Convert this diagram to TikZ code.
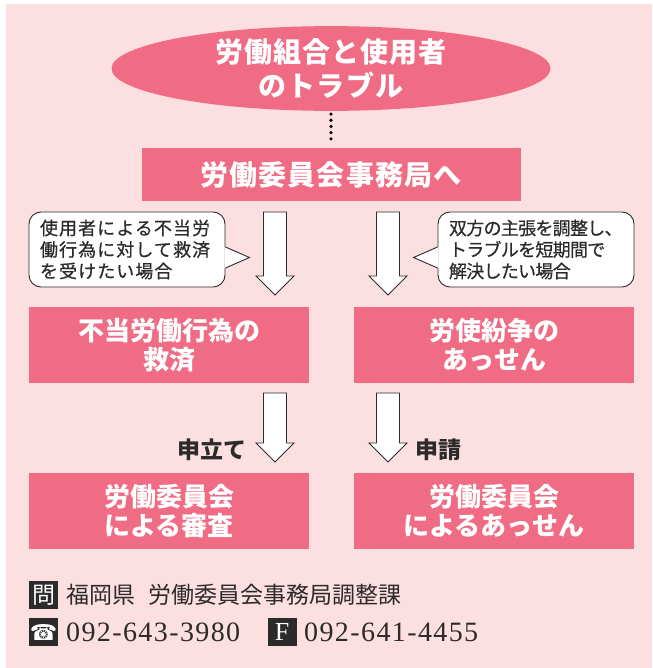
\documentclass[tikz,border=0pt]{standalone}
\usepackage{fontspec}
\usetikzlibrary{shapes.geometric}
\newfontfamily\gothic{Noto Sans CJK JP}
\newfontfamily\numfont{Liberation Serif}
\newfontfamily\symfont{DejaVu Sans}
\definecolor{bgpink}{RGB}{252,223,224}
\definecolor{boxpink}{RGB}{240,108,133}
\definecolor{inkgray}{RGB}{45,42,43}

\begin{document}
\begin{tikzpicture}[x=1pt,y=-1pt,
        pinkbox/.style={rectangle, fill=boxpink, text=white, align=center, inner sep=0pt,
            minimum width=280pt, minimum height=76pt,
            font=\gothic\bfseries\fontsize{26}{29.5}\selectfont},
        bubble/.style={rectangle, rounded corners=12pt, draw=inkgray, line width=0.9pt, fill=white,
            minimum width=196pt, minimum height=75pt, text width=174pt, align=left, inner sep=0pt,
            text=inkgray, font=\gothic\addfontfeature{FakeBold=0.6}\fontsize{18}{21.5}\selectfont},
        blockarrow/.style={draw=inkgray, line width=0.9pt, fill=white},
        dotline/.style={line width=3.6pt, line cap=round, dash pattern=on 0pt off 6.19pt,
            shorten <=3pt, shorten >=4pt},
        iconbox/.style={fill=inkgray, text=white, minimum width=29pt, minimum height=28pt, inner sep=0pt},
        footnote/.style={anchor=west, inner sep=0pt, text=inkgray}]
        	\useasboundingbox (0,0) rectangle (652,668);
        	\fill [bgpink] (6,4) rectangle (652,668);
        	% top of the flow
        	\node [ellipse, fill=boxpink, text=white, align=center, inner sep=0pt,
        	    minimum width=439pt, minimum height=83pt,
        	    font=\gothic\bfseries\addfontfeature{LetterSpace=4}\fontsize{28}{34}\selectfont] (trouble) at (331,68.5) {労働組合と使用者\\のトラブル};
        	\node [pinkbox, minimum width=379pt, minimum height=53pt,
        	    font=\gothic\bfseries\addfontfeature{LetterSpace=4}\fontsize{28}{34}\selectfont] (bureau) at (331,174.5) {労働委員会事務局へ};
        	\draw [dotline] (trouble) -- (bureau);
        	% speech bubbles
        	\node [bubble] (needUnfair) at (127,249.5) {\addfontfeature{LetterSpace=6}使用者による不当労\\働行為に対して救済\\を受けたい場合};
        	\node [bubble] (needDispute) at (536,249.5) {\addfontfeature{LetterSpace=-4}双方の主張を調整し、\\トラブルを短期間で\\解決したい場合};
        	\fill [white] (needUnfair.east) ++(-1,-2.5) -- ++(25,10.5) -- ++(-25,10.5) -- cycle;
        	\draw [inkgray, line width=0.9pt, line join=miter] (needUnfair.east) ++(0,-2.5) -- ++(24,10.5) -- ++(-24,10.5);
        	\fill [white] (needDispute.west) ++(1,-2.5) -- ++(-25,10.5) -- ++(25,10.5) -- cycle;
        	\draw [inkgray, line width=0.9pt, line join=miter] (needDispute.west) ++(0,-2.5) -- ++(-24,10.5) -- ++(24,10.5);
        	% block arrows
        	\foreach \ax/\ystart/\yend in {275/212/295, 388/212/295, 275/393/462, 388/393/462}
        	    \draw [blockarrow] (\ax-11.5,\ystart) -- (\ax+11.5,\ystart) -- (\ax+11.5,\yend-19)
        	        -- (\ax+19,\yend-19) -- (\ax,\yend) -- (\ax-19,\yend-19) -- (\ax-11.5,\yend-19) -- cycle;
        	% procedures
        	\node [pinkbox] (unfair) at (169,345) {不当労働行為の\\救済};
        	\node [pinkbox] (dispute) at (494,345) {労使紛争の\\あっせん};
        	\node [anchor=east, inner sep=0pt, text=inkgray, font=\gothic\bfseries\fontsize{23}{23}\selectfont] (filing) at (247,450) {申立て};
        	\node [anchor=west, inner sep=0pt, text=inkgray, font=\gothic\bfseries\fontsize{23}{23}\selectfont] (request) at (415,450) {申請};
        	\node [pinkbox] (hearing) at (169,511) {労働委員会\\による審査};
        	\node [pinkbox] (mediation) at (494,511) {労働委員会\\によるあっせん};
        	% contact
        	\node [iconbox, font=\gothic\fontsize{23}{23}\selectfont] (askIcon) at (43.5,595) {問};
        	\node [footnote, font=\gothic\fontsize{23}{23}\selectfont] (askText) at (66,595) {福岡県\hspace{13pt}労働委員会事務局調整課};
        	\node [iconbox, font=\symfont\fontsize{22}{22}\selectfont] (telIcon) at (43.5,632) {☎};
        	\node [footnote, font=\numfont\addfontfeature{LetterSpace=5}\fontsize{28}{28}\selectfont] (telNum) at (66,632) {092-643-3980};
        	\node [iconbox, font=\numfont\fontsize{26}{26}\selectfont] (faxIcon) at (282,632) {F};
        	\node [footnote, font=\numfont\addfontfeature{LetterSpace=5}\fontsize{28}{28}\selectfont] (faxNum) at (304,632) {092-641-4455};
        \end{tikzpicture}
\end{document}
